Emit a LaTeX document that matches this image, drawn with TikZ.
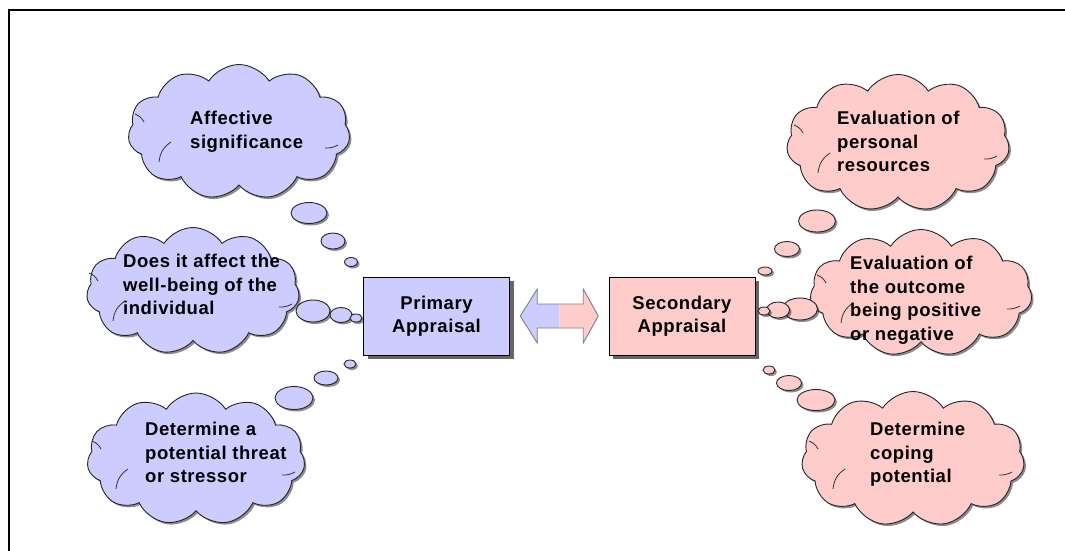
\documentclass[tikz,border=0pt]{standalone}
\usepackage{fontspec}
\setmainfont{Liberation Sans}
\newfontfamily\lblfont[LetterSpace=3]{Liberation Sans}
\usetikzlibrary{shapes.symbols,shapes.geometric,shadows,calc}
\definecolor{lav}{HTML}{CCCCFF}
\definecolor{rosy}{HTML}{FFCCCC}
\begin{document}
\begin{tikzpicture}[x=1pt,y=-1pt,
  outline/.style={draw=black!85,line width=0.9pt},
  shade/.style={drop shadow={shadow xshift=2pt,shadow yshift=-2pt,fill=black,opacity=0.45}},
  puff/.style={cloud,cloud puffs=11,cloud puff arc=115,cloud ignores aspect,outline,shade,inner sep=0pt},
  bubble/.style={ellipse,outline,shade,inner sep=0pt},
  crease/.style={draw=black!80,line width=0.8pt},
  label/.style={font=\lblfont\bfseries\fontsize{18.5}{23.5}\selectfont,align=left,inner sep=0pt,anchor=north west},
  stage/.style={rectangle,draw=black,line width=1pt,minimum width=146,minimum height=78,
    font=\lblfont\bfseries\fontsize{18.5}{23.5}\selectfont,align=center,
    drop shadow={shadow xshift=4pt,shadow yshift=-4pt,fill=black,opacity=0.6}}]
\useasboundingbox (0,0) rectangle (1065,551);
\fill[white] (0,0) rectangle (1065,551);
% frame
\draw[line width=2pt] (9,551) -- (9,10) -- (1065,10);

% central boxes
\node[stage,fill=lav] (prim) at (436.5,316) {Primary\\Appraisal};
\node[stage,fill=rosy] (sec) at (682,316) {Secondary\\Appraisal};

% two-way arrow between the boxes
\coordinate (mid) at ($(prim.east)!0.5!(sec.west)$);
\begin{scope}[shift={(mid)}]
  \fill[lav] (-39,0) -- (-22,-27) -- (-22,-12) -- (0,-12) -- (0,12) -- (-22,12) -- (-22,27) -- cycle;
  \fill[rosy] (0,-12) -- (24,-12) -- (24,-27) -- (39,0) -- (24,27) -- (24,12) -- (0,12) -- cycle;
  \draw[gray,line width=0.9pt,line join=miter] (-39,0) -- (-22,-27) -- (-22,-12) -- (24,-12) -- (24,-27) -- (39,0)
    -- (24,27) -- (24,12) -- (-22,12) -- (-22,27) -- cycle;
\end{scope}

% primary appraisal thoughts
\node[puff,fill=lav,minimum width=222,minimum height=135] (l1) at (239,132) {};
\node[puff,fill=lav,minimum width=213,minimum height=127] (l2) at (193,291) {};
\node[puff,fill=lav,minimum width=218,minimum height=132] (l3) at (196,459) {};

% secondary appraisal thoughts
\node[puff,fill=rosy,minimum width=223,minimum height=137] (r1) at (898,143) {};
\node[puff,fill=rosy,minimum width=222,minimum height=127] (r2) at (921,293) {};
\node[puff,fill=rosy,minimum width=223,minimum height=135] (r3) at (913,459) {};

% small creases inside each cloud
\foreach \c in {l1,l2,l3,r1,r2,r3}{
  \begin{scope}[shift={(\c.center)}]
    \draw[crease] (-104,-18) to[bend left=20] (-95,-10);
    \draw[crease] (-80,30) to[bend left=25] (-68,10);
    \draw[crease] (86,16) to[bend right=15] (99,13);
  \end{scope}
}

\node[label] (tl1) at (190,111) {Affective\\significance};
\node[label] (tl2) at (123,254) {Does it affect the\\well-being of the\\individual};
\node[label] (tl3) at (145,422) {Determine a\\potential threat\\or stressor};
\node[label] (tr1) at (837,111) {Evaluation of\\personal\\resources};
\node[label] (tr2) at (850,256) {Evaluation of\\the outcome\\being positive\\or negative};
\node[label] (tr3) at (870,422) {Determine\\coping\\potential};

\node[bubble,fill=lav,minimum width=36,minimum height=21] (la1) at (309,213) {};
\node[bubble,fill=lav,minimum width=24,minimum height=16] (la2) at (333,241) {};
\node[bubble,fill=lav,minimum width=13,minimum height=9] (la3) at (351,262) {};
\node[bubble,fill=lav,minimum width=34,minimum height=22] (lb1) at (313,311) {};
\node[bubble,fill=lav,minimum width=22,minimum height=15] (lb2) at (341,315) {};
\node[bubble,fill=lav,minimum width=12,minimum height=8] (lb3) at (356,318) {};
\node[bubble,fill=lav,minimum width=12,minimum height=8] (lc3) at (350,364) {};
\node[bubble,fill=lav,minimum width=24,minimum height=14] (lc2) at (326,378) {};
\node[bubble,fill=lav,minimum width=38,minimum height=23] (lc1) at (294,398) {};

\node[bubble,fill=rosy,minimum width=37,minimum height=22] (ra1) at (817,221) {};
\node[bubble,fill=rosy,minimum width=25,minimum height=15] (ra2) at (787,249) {};
\node[bubble,fill=rosy,minimum width=14,minimum height=8] (ra3) at (765,271) {};
\node[bubble,fill=rosy,minimum width=35,minimum height=22] (rb1) at (800,309) {};
\node[bubble,fill=rosy,minimum width=23,minimum height=16] (rb2) at (778,310) {};
\node[bubble,fill=rosy,minimum width=12,minimum height=8] (rb3) at (764,311) {};
\node[bubble,fill=rosy,minimum width=12,minimum height=8] (rc3) at (769,370) {};
\node[bubble,fill=rosy,minimum width=25,minimum height=15] (rc2) at (789,383) {};
\node[bubble,fill=rosy,minimum width=38,minimum height=21] (rc1) at (816,400) {};
\end{tikzpicture}
\end{document}
